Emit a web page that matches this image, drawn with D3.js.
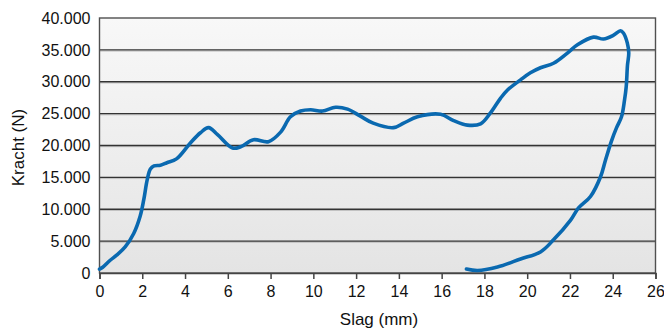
<!DOCTYPE html>
<html><head><meta charset="utf-8">
<script src="https://cdn.jsdelivr.net/npm/d3@7"></script>
<style>
body{margin:0;background:#fff;}
text{font-family:"Liberation Sans Narrow","Arial Narrow","Liberation Sans",Arial,sans-serif;fill:#111;}
</style></head><body>
<svg id="c" width="664" height="331"></svg>
<script>
// Slag (mm)
const slag = [0.0,0.15,0.5,0.8,1.2,1.6,1.9,2.07,2.23,2.38,2.55,2.85,3.15,3.6,4.25,4.72,5.1,5.52,6.22,6.6,7.2,7.9,8.47,8.93,9.4,9.87,10.43,11.04,11.6,12.2,12.8,13.75,14.22,14.87,15.95,16.56,17.2,17.82,18.28,18.75,19.08,19.69,20.15,20.62,21.23,21.88,22.35,23.1,23.57,24.04,24.36,24.5,24.68,24.75,24.69,24.63,24.55,24.41,24.18,23.94,23.66,23.43,22.96,22.4,22.03,21.23,20.62,19.69,18.61,17.68,17.16];
// Kracht (N)
const kracht = [600,900,2000,2800,4100,6200,8900,11500,14600,16300,16800,16900,17300,17900,20400,22000,22800,21700,19600,19800,20900,20600,22100,24500,25400,25600,25400,26000,25700,24600,23500,22800,23500,24500,24900,23900,23200,23400,25100,27400,28700,30300,31400,32200,32900,34500,35800,37000,36700,37300,38000,37650,36100,34500,32600,29200,27100,24500,22800,20700,17700,15100,12000,10200,8300,5200,3300,2200,940,390,630];
const xTicks = [0,2,4,6,8,10,12,14,16,18,20,22,24,26];
const yTicks = [0,5000,10000,15000,20000,25000,30000,35000,40000];
const yTickLabels = ["0","5.000","10.000","15.000","20.000","25.000","30.000","35.000","40.000"];
const xTitle = "Slag (mm)";
const yTitle = "Kracht (N)";

const svg = d3.select("#c");
const L=99.5, R=655.5, T=18, B=273;
const x = d3.scaleLinear().domain([0,26]).range([L,R]);
const y = d3.scaleLinear().domain([0,40000]).range([B,T]);

const defs = svg.append("defs");
const g = defs.append("linearGradient").attr("id","bg").attr("x1",0).attr("y1",0).attr("x2",0).attr("y2",1);
g.append("stop").attr("offset","0%").attr("stop-color","#f8f8f8");
g.append("stop").attr("offset","100%").attr("stop-color","#e4e4e4");

svg.append("rect").attr("x",L).attr("y",T).attr("width",R-L).attr("height",B-T).attr("fill","url(#bg)");

// gridlines
svg.append("g").selectAll("line.s").data(yTicks.slice(1,-1)).join("line")
  .attr("x1",L).attr("x2",R).attr("y1",d=>y(d)+1.2).attr("y2",d=>y(d)+1.2)
  .attr("stroke","#c0c0c0").attr("stroke-width",1);
svg.append("g").selectAll("line.g").data(yTicks.slice(1,-1)).join("line")
  .attr("x1",L).attr("x2",R).attr("y1",d=>y(d)).attr("y2",d=>y(d))
  .attr("stroke","#333").attr("stroke-width",1.4);

// frame
svg.append("rect").attr("x",L).attr("y",T).attr("width",R-L).attr("height",B-T)
  .attr("fill","none").attr("stroke","#505050").attr("stroke-width",1.4);

// x axis
const xa = svg.append("g").attr("transform",`translate(0,${B})`)
  .call(d3.axisBottom(x).tickValues(xTicks).tickSize(6).tickPadding(7).tickFormat(d3.format("d")));
xa.select(".domain").attr("stroke","#444").attr("stroke-width",1.5);
xa.selectAll(".tick line").attr("stroke","#444").attr("stroke-width",1.5);
xa.selectAll("text").attr("font-size",16).attr("fill","#111");

// y axis labels
const ya = svg.append("g").attr("transform",`translate(${L},0)`)
  .call(d3.axisLeft(y).tickValues(yTicks).tickSize(0).tickPadding(9).tickFormat((d,i)=>yTickLabels[i]));
ya.select(".domain").remove();
ya.selectAll("text").attr("font-size",16).attr("fill","#111");

// titles
svg.append("text").attr("x",379).attr("y",325).attr("text-anchor","middle")
  .attr("font-size",17).text(xTitle);
svg.append("text").attr("transform",`translate(24,${(T+B)/2+2}) rotate(-90)`).attr("text-anchor","middle")
  .attr("font-size",17).text(yTitle);

// curve
const pts = slag.map((s,i)=>[s,kracht[i]]);
const line = d3.line().x(d=>x(d[0])).y(d=>y(d[1])).curve(d3.curveCatmullRom.alpha(0.5));
svg.append("path").attr("d",line(pts)).attr("fill","none").attr("stroke","#0a69b0")
  .attr("stroke-width",3.6).attr("stroke-linejoin","round").attr("stroke-linecap","round");
</script></body></html>
